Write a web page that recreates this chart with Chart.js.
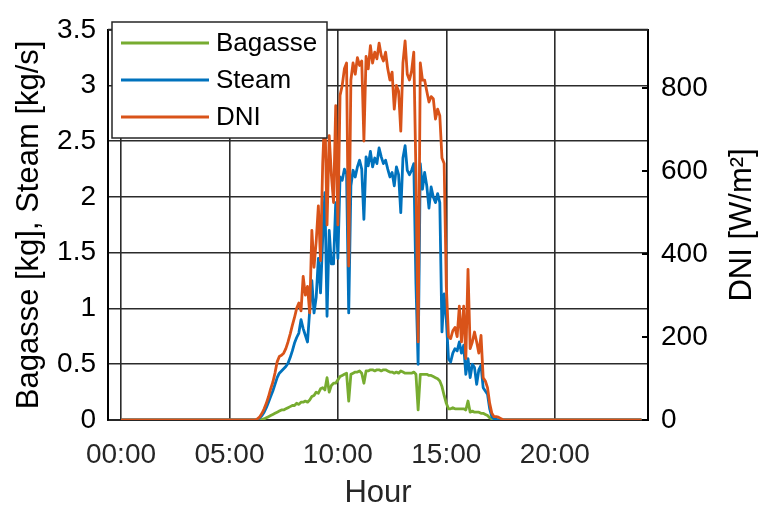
<!DOCTYPE html>
<html>
<head>
<meta charset="utf-8">
<script src="https://cdn.jsdelivr.net/npm/chart.js@4.4.0/dist/chart.umd.min.js"></script>
<style>
  html, body { margin: 0; padding: 0; background: #fff; }
  #wrap { width: 760px; height: 510px; }
</style>
</head>
<body>
<div id="wrap"><canvas id="c" width="760" height="510"></canvas></div>
<script>
// ─── Data ────────────────────────────────────────────────────────
const hours = [0,
  6.2, 6.3, 6.4, 6.5, 6.6, 6.7, 6.8, 6.9, 7.0, 7.1, 7.2, 7.3, 7.4, 7.5, 7.6, 7.7, 7.8, 7.9,
  8.0, 8.1, 8.2, 8.3, 8.4, 8.5, 8.6, 8.7, 8.8, 8.9, 9.0, 9.1, 9.2, 9.3, 9.4, 9.5, 9.6, 9.7, 9.8, 9.9,
  10.0, 10.1, 10.2, 10.3, 10.4, 10.5, 10.6, 10.7, 10.8, 10.9, 11.0, 11.1, 11.2, 11.3, 11.4, 11.5, 11.6, 11.7, 11.8, 11.9,
  12.0, 12.1, 12.2, 12.3, 12.4, 12.5, 12.6, 12.7, 12.8, 12.9, 13.0, 13.1, 13.2, 13.3, 13.4, 13.5, 13.6, 13.7, 13.8, 13.9,
  14.0, 14.1, 14.2, 14.3, 14.4, 14.5, 14.6, 14.7, 14.8, 14.9, 15.0, 15.1, 15.2, 15.3, 15.4, 15.5, 15.6, 15.7, 15.8, 15.9,
  16.0, 16.1, 16.2, 16.3, 16.4, 16.5, 16.6, 16.7, 16.8, 16.9, 17.0, 17.1, 17.2, 17.3, 17.4, 17.5, 17.6, 17.7,
  24];

// kg
const bagasse = [0,
  0, 0, 0, 0.005, 0.01, 0.02, 0.03, 0.04, 0.05, 0.06, 0.07, 0.08, 0.09, 0.09, 0.10, 0.11, 0.12, 0.13,
  0.13, 0.15, 0.14, 0.16, 0.16, 0.17, 0.16, 0.18, 0.21, 0.22, 0.25, 0.24, 0.28, 0.29, 0.27, 0.38, 0.25, 0.31, 0.33, 0.33,
  0.36, 0.39, 0.40, 0.41, 0.42, 0.17, 0.41, 0.42, 0.43, 0.43, 0.44, 0.42, 0.33, 0.44, 0.44, 0.45, 0.45, 0.44, 0.45, 0.45,
  0.44, 0.45, 0.45, 0.44, 0.43, 0.43, 0.42, 0.43, 0.42, 0.44, 0.43, 0.42, 0.42, 0.42, 0.42, 0.43, 0.41, 0.09, 0.41, 0.41,
  0.41, 0.41, 0.40, 0.40, 0.39, 0.38, 0.37, 0.35, 0.30, 0.22, 0.15, 0.10, 0.10, 0.11, 0.10, 0.10, 0.10, 0.10, 0.10, 0.09,
  0.17, 0.07, 0.08, 0.07, 0.07, 0.07, 0.06, 0.06, 0.05, 0.04, 0.02, 0.01, 0, 0, 0, 0, 0, 0,
  0];

// kg/s
const steam = [0,
  0, 0.005, 0.02, 0.04, 0.07, 0.11, 0.16, 0.21, 0.26, 0.32, 0.38, 0.42, 0.44, 0.46, 0.48, 0.51, 0.56, 0.62,
  0.69, 0.74, 0.78, 0.90, 0.82, 0.76, 0.70, 0.98, 1.25, 0.96, 1.10, 1.45, 1.14, 1.63, 2.04, 0.93, 1.70, 1.40, 1.40, 1.95,
  1.45, 2.18, 2.15, 2.25, 2.21, 0.96, 2.10, 2.24, 2.18, 2.27, 2.33, 2.25, 1.80, 2.36, 2.28, 2.41, 2.27, 2.35, 2.30, 2.44,
  2.36, 2.30, 2.33, 2.25, 2.18, 2.22, 2.10, 2.27, 2.20, 1.86, 2.35, 2.46, 2.24, 2.20, 2.24, 2.30, 1.22, 0.50, 2.30, 2.07,
  2.22, 2.10, 1.90, 2.09, 2.00, 1.95, 2.03, 1.95, 0.79, 1.13, 0.90, 0.55, 0.52, 0.60, 0.64, 0.62, 0.70, 0.60, 0.67, 0.41,
  0.55, 0.38, 0.50, 0.47, 0.32, 0.45, 0.49, 0.29, 0.26, 0.23, 0.10, 0.03, 0.01, 0.005, 0, 0, 0, 0,
  0];

// W/m²
const dni = [0,
  0, 3, 8, 16, 27, 40, 56, 75, 91, 113, 140, 153, 156, 161, 172, 188, 207, 228,
  247, 269, 282, 263, 346, 301, 322, 258, 457, 368, 430, 516, 384, 618, 749, 470, 685, 591, 524, 757,
  470, 782, 806, 846, 860, 371, 819, 860, 833, 873, 854, 865, 672, 876, 846, 902, 860, 886, 870, 908,
  878, 865, 886, 846, 819, 838, 749, 806, 792, 696, 860, 913, 833, 819, 841, 886, 591, 188, 860, 819,
  819, 792, 766, 779, 774, 725, 749, 733, 631, 618, 322, 201, 196, 215, 223, 201, 274, 188, 274, 148,
  363, 172, 188, 212, 188, 161, 204, 102, 94, 78, 40, 16, 8, 8, 7, 4, 1, 0,
  0];

const xTicks = [0, 5, 10, 15, 20];
const dniTicks = [0, 200, 400, 600, 800];

const COLORS = { bagasse: '#77AC30', steam: '#0072BD', dni: '#D95319' };
const FONT = '"Liberation Sans", Arial, Helvetica, sans-serif';

const pts = arr => hours.map((h, i) => ({ x: h, y: arr[i] }));

// ─── Extras: box, inner ticks, legend, titles ────────────────────
const extras = {
  id: 'extras',
  afterDraw(chart) {
    const { ctx, chartArea: a, scales } = chart;
    ctx.save();

    // top edge of the box
    ctx.strokeStyle = '#262626';
    ctx.lineWidth = 2;
    ctx.beginPath();
    ctx.moveTo(a.left, a.top);
    ctx.lineTo(a.right, a.top);
    ctx.stroke();

    // inward ticks on the DNI axis
    ctx.strokeStyle = '#000';
    ctx.beginPath();
    dniTicks.forEach(v => {
      const y = scales.y2.getPixelForValue(v);
      ctx.moveTo(a.right - 6, y);
      ctx.lineTo(a.right, y);
    });
    ctx.stroke();

    // legend
    const lx = 112, ly = 22, lw = 215, lh = 116;
    ctx.fillStyle = '#fff';
    ctx.fillRect(lx, ly, lw, lh);
    ctx.strokeStyle = '#262626';
    ctx.lineWidth = 1.5;
    ctx.strokeRect(lx, ly, lw, lh);
    ctx.font = `26px ${FONT}`;
    ctx.textAlign = 'left';
    ctx.textBaseline = 'middle';
    chart.data.datasets.forEach((ds, i) => {
      const y = 43 + i * 37;
      ctx.strokeStyle = ds.borderColor;
      ctx.lineWidth = 3;
      ctx.beginPath();
      ctx.moveTo(121, y);
      ctx.lineTo(209, y);
      ctx.stroke();
      ctx.fillStyle = '#000';
      ctx.fillText(ds.label, 216, y + 1);
    });

    // axis titles
    ctx.fillStyle = '#000';
    ctx.font = `31px ${FONT}`;
    ctx.textAlign = 'center';
    ctx.textBaseline = 'middle';
    const cy = (a.top + a.bottom) / 2;
    ctx.save();
    ctx.translate(29, cy);
    ctx.rotate(-Math.PI / 2);
    ctx.fillText('Bagasse [kg], Steam [kg/s]', 0, 0);
    ctx.restore();
    ctx.save();
    ctx.translate(742, cy);
    ctx.rotate(-Math.PI / 2);
    ctx.fillText('DNI [W/m²]', 0, 0);
    ctx.restore();
    ctx.fillStyle = '#262626';
    ctx.fillText('Hour', (a.left + a.right) / 2, 493);

    ctx.restore();
  }
};

// ─── Chart ───────────────────────────────────────────────────────
new Chart(document.getElementById('c'), {
  type: 'line',
  data: {
    datasets: [
      { label: 'Bagasse', data: pts(bagasse), yAxisID: 'y', borderColor: COLORS.bagasse, order: 3 },
      { label: 'Steam', data: pts(steam), yAxisID: 'y', borderColor: COLORS.steam, order: 2 },
      { label: 'DNI', data: pts(dni), yAxisID: 'y2', borderColor: COLORS.dni, order: 1 }
    ]
  },
  options: {
    responsive: false,
    animation: false,
    events: [],
    layout: { padding: { top: 19, left: 0, right: 0, bottom: 0 } },
    elements: {
      line: { borderWidth: 2.8, tension: 0, fill: false, borderJoinStyle: 'round' },
      point: { radius: 0 }
    },
    plugins: { legend: { display: false }, tooltip: { enabled: false } },
    scales: {
      x: {
        type: 'linear',
        min: -0.6,
        max: 24.3,
        afterBuildTicks: s => { s.ticks = xTicks.map(v => ({ value: v })); },
        afterFit: s => { s.height = 90; },
        ticks: {
          autoSkip: false, maxRotation: 0, padding: 18,
          color: '#262626', font: { family: FONT, size: 28 },
          callback: v => String(v).padStart(2, '0') + ':00'
        },
        grid: { color: '#2b2b2b', lineWidth: 1.6, drawTicks: false },
        border: { color: '#262626', width: 2 }
      },
      y: {
        position: 'left',
        min: 0,
        max: 3.5,
        afterFit: s => { s.width = 108; },
        ticks: {
          stepSize: 0.5, autoSkip: false, padding: 12,
          color: '#000', font: { family: FONT, size: 28 },
          callback: v => String(Number(v))
        },
        grid: { color: '#2b2b2b', lineWidth: 1.6, drawTicks: false },
        border: { color: '#000', width: 2 }
      },
      y2: {
        position: 'right',
        min: 0,
        max: 940,
        afterBuildTicks: s => { s.ticks = dniTicks.map(v => ({ value: v })); },
        afterFit: s => { s.width = 112; },
        ticks: {
          autoSkip: false, padding: 13,
          color: '#000', font: { family: FONT, size: 28 }
        },
        grid: { display: false, drawTicks: false },
        border: { color: '#000', width: 2 }
      }
    }
  },
  plugins: [extras]
});
</script>
</body>
</html>
